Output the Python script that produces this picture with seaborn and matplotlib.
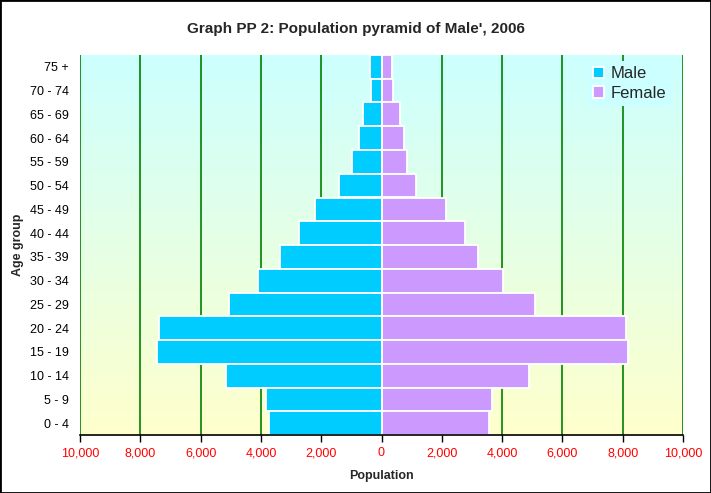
import numpy as np
import pandas as pd
import matplotlib
matplotlib.use("Agg")
import matplotlib.pyplot as plt
from matplotlib.patches import Rectangle
from matplotlib.ticker import FuncFormatter, FixedLocator
import seaborn as sns

ages = ["0 - 4", "5 - 9", "10 - 14", "15 - 19", "20 - 24", "25 - 29", "30 - 34",
        "35 - 39", "40 - 44", "45 - 49", "50 - 54", "55 - 59", "60 - 64",
        "65 - 69", "70 - 74", "75 +"]
male = [3728, 3818, 5152, 7437, 7394, 5043, 4083, 3354, 2735, 2205, 1411, 980,
        748, 616, 351, 384]
female = [3576, 3675, 4901, 8179, 8113, 5089, 4040, 3212, 2781, 2152, 1159, 861,
          762, 629, 397, 364]
x_ticks = [-10000, -8000, -6000, -4000, -2000, 0, 2000, 4000, 6000, 8000, 10000]

sns.set_theme(style="white")
plt.rcParams['font.family'] = ['Liberation Sans', 'DejaVu Sans']

df = pd.DataFrame({
    "Age group": ages * 2,
    "Population": [-m for m in male] + female,
    "Sex": ["Male"] * len(ages) + ["Female"] * len(ages),
})

fig = plt.figure(figsize=(7.11, 4.93), dpi=100)
ax = fig.add_axes([80 / 711, 1 - 435 / 493, (683 - 80) / 711, (435 - 55) / 493])

# gradient background
grad = np.linspace(0, 1, 256).reshape(-1, 1)
top = np.array([0xCC, 0xFF, 0xFF]) / 255
bot = np.array([0xFF, 0xFF, 0xCC]) / 255
img = top[None, None, :] * (1 - grad[:, :, None]) + bot[None, None, :] * grad[:, :, None]
ax.imshow(img, extent=[-10000, 10000, len(ages) - 0.5, -0.5], aspect='auto', zorder=0)

for xv in x_ticks:
    ax.axvline(xv, color="#008000", lw=1.2, zorder=1)

sns.barplot(data=df, y="Age group", x="Population", hue="Sex", order=ages[::-1],
            hue_order=["Male", "Female"], palette={"Male": "#00CCFF", "Female": "#CC99FF"},
            dodge=False, width=1.0, edgecolor="white", linewidth=1.3, orient="h",
            saturation=1, ax=ax, zorder=2)

ax.set_xlim(-10000, 10000)
ax.set_ylim(len(ages) - 0.5, -0.5)
ax.xaxis.set_major_locator(FixedLocator(x_ticks))
ax.xaxis.set_major_formatter(FuncFormatter(lambda v, p: f"{abs(int(v)):,}"))
ax.tick_params(axis="x", colors="black", labelcolor="#FF0000", labelsize=9,
               length=5, width=1, direction="out", bottom=True, pad=4)
ax.tick_params(axis="y", labelsize=9, left=False, length=0, pad=8, labelcolor="black")

for s in ["top", "right", "left"]:
    ax.spines[s].set_visible(False)
ax.spines["bottom"].set_color("black")
ax.spines["bottom"].set_linewidth(1.2)
ax.spines["bottom"].set_zorder(5)

ax.set_xlabel("Population", fontsize=9, fontweight="bold")
ax.set_ylabel("Age group", fontsize=9, fontweight="bold")
ax.xaxis.set_label_coords(0.5, -(476 - 435) / 380, transform=ax.transAxes)
ax.xaxis.label.set_va("center")
ax.yaxis.set_label_coords(-(80 - 18) / 603, 0.5, transform=ax.transAxes)
ax.yaxis.label.set_va("center")
fig.text(0.5, 1 - 29 / 493, "Graph PP 2: Population pyramid of Male', 2006",
         ha="center", va="center", fontsize=11, fontweight="bold")

leg = ax.legend(loc="upper right", bbox_to_anchor=(0.995, 1.005), frameon=True,
                fontsize=12, handlelength=0.7, handleheight=0.7, handletextpad=0.4,
                labelspacing=0.25, borderpad=0.3)
leg.get_frame().set_facecolor("#CCFFFF")
leg.get_frame().set_edgecolor("none")
leg.get_frame().set_alpha(1)
leg.set_zorder(6)

fig.add_artist(Rectangle((0, 0), 1, 1, transform=fig.transFigure, fill=False,
                         edgecolor="black", lw=2))

fig.savefig("out.png", dpi=100)
